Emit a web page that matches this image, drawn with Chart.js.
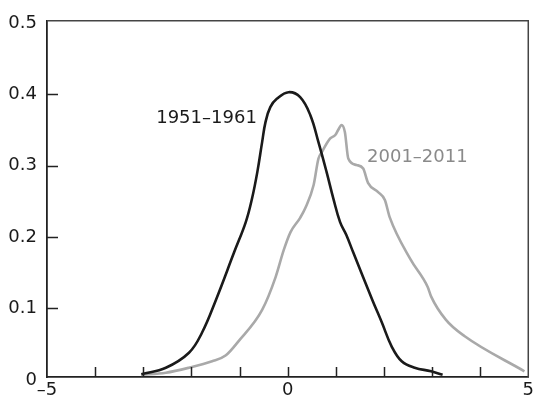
<!DOCTYPE html>
<html>
<head>
<meta charset="utf-8">
<script src="https://cdn.jsdelivr.net/npm/chart.js@4/dist/chart.umd.min.js"></script>
<style>
html, body { margin: 0; padding: 0; background: #fff; }
#wrap { width: 537px; height: 403px; }
</style>
</head>
<body>
<div id="wrap"><canvas id="myChart"></canvas></div>
<script>
// 1951-1961 (black)
const xOld = [-3.04, -2.53, -2.05, -1.78, -1.49, -1.11, -0.87, -0.74, -0.63, -0.53, -0.46, -0.36, -0.22, 0.02,
              0.26, 0.47, 0.64, 0.81, 0.95, 1.09, 1.22, 1.36, 1.76, 1.96, 2.16, 2.37, 2.64, 2.98, 3.22];
const yOld = [0.008, 0.017, 0.038, 0.066, 0.112, 0.179, 0.221, 0.254, 0.291, 0.333, 0.361, 0.382, 0.394, 0.403,
              0.396, 0.371, 0.333, 0.291, 0.254, 0.221, 0.203, 0.179, 0.112, 0.080, 0.047, 0.026, 0.017, 0.012, 0.007];

// 2001-2011 (gray)
const xNew = [-3.04, -2.53, -2.05, -1.57, -1.29, -1.01, -0.53, -0.25, -0.08, 0.06, 0.26, 0.37, 0.54, 0.64,
              0.71, 0.88, 0.99, 1.05, 1.12, 1.19, 1.26, 1.43, 1.57, 1.67, 1.88, 2.02, 2.12, 2.56, 2.91, 2.98,
              3.29, 3.68, 4.92];
const yNew = [0.007, 0.010, 0.017, 0.026, 0.034, 0.055, 0.098, 0.144, 0.182, 0.207, 0.227, 0.241, 0.273, 0.310,
              0.319, 0.338, 0.343, 0.350, 0.357, 0.347, 0.310, 0.301, 0.296, 0.276, 0.263, 0.252, 0.228, 0.168, 0.130, 0.117,
              0.084, 0.061, 0.012];

const seriesNames = ['1951–1961', '2001–2011'];
const xTicks = [-5, -4, -3, -2, -1, 0, 1, 2, 3, 4, 5];
const xTickLabels = ['–5', '', '', '', '', '0', '', '', '', '', '5'];
const yTicks = [0, 0.1, 0.2, 0.3, 0.4, 0.5];
const yTickLabels = ['0', '0.1', '0.2', '0.3', '0.4', '0.5'];

const toPoints = (xs, ys) => xs.map((v, i) => ({ x: v, y: ys[i] }));
const FONT = { family: 'DejaVu Sans', size: 18 };

// where the series names sit (data coords) and how they are aligned
const seriesLabels = [
  { text: seriesNames[0], x: -0.64, y: 0.366, align: 'right', color: '#1a1a1a' },
  { text: seriesNames[1], x: 1.65, y: 0.312, align: 'left', color: '#8a8a8a' }
];

// inward tick marks, top/right frame, series names
const framePlugin = {
  id: 'frame',
  afterDraw(chart) {
    const { ctx, chartArea: a, scales: { x, y } } = chart;
    ctx.save();
    ctx.strokeStyle = '#222';
    ctx.lineWidth = 1.5;
    ctx.beginPath();
    x.ticks.forEach(t => {
      if (t.value > -5 && t.value < 5) {
        const px = Math.round(x.getPixelForValue(t.value)) + 0.5;
        ctx.moveTo(px, a.bottom);
        ctx.lineTo(px, a.bottom - 10);
      }
    });
    y.ticks.forEach(t => {
      if (t.value > 0 && t.value < 0.5) {
        const py = Math.round(y.getPixelForValue(t.value)) + 0.5;
        ctx.moveTo(a.left, py);
        ctx.lineTo(a.left + 11, py);
      }
    });
    ctx.stroke();

    ctx.strokeStyle = '#444';
    ctx.lineWidth = 1.5;
    ctx.beginPath();
    ctx.moveTo(a.left, a.top);
    ctx.lineTo(a.right, a.top);
    ctx.lineTo(a.right, a.bottom);
    ctx.stroke();

    ctx.font = FONT.size + 'px "' + FONT.family + '"';
    ctx.textBaseline = 'middle';
    seriesLabels.forEach(l => {
      ctx.fillStyle = l.color;
      ctx.textAlign = l.align;
      ctx.fillText(l.text, x.getPixelForValue(l.x), y.getPixelForValue(l.y));
    });
    ctx.restore();
  }
};

const ctx = document.getElementById('myChart').getContext('2d');
new Chart(ctx, {
  type: 'scatter',
  data: {
    datasets: [{
      label: seriesNames[0],
      data: toPoints(xOld, yOld),
      showLine: true,
      borderColor: '#1a1a1a',
      borderWidth: 2.6,
      pointRadius: 0,
      tension: 0.4
    }, {
      label: seriesNames[1],
      data: toPoints(xNew, yNew),
      showLine: true,
      borderColor: '#a9a9a9',
      borderWidth: 2.6,
      pointRadius: 0,
      cubicInterpolationMode: 'monotone'
    }]
  },
  options: {
    responsive: true,
    maintainAspectRatio: false,
    animation: false,
    devicePixelRatio: 1,
    layout: { padding: { top: 20, right: 6, left: 0, bottom: 0 } },
    plugins: { legend: { display: false }, tooltip: { enabled: false } },
    scales: {
      x: {
        type: 'linear',
        min: -5,
        max: 5,
        afterBuildTicks: s => { s.ticks = xTicks.map(v => ({ value: v })); },
        afterFit: s => { s.height = 26; },
        grid: { display: false, drawTicks: false },
        border: { display: true, color: '#222', width: 1.8 },
        ticks: {
          font: FONT,
          color: '#1a1a1a',
          padding: 3,
          maxRotation: 0,
          autoSkip: false,
          callback: v => xTickLabels[xTicks.indexOf(v)]
        }
      },
      y: {
        min: 0.004,
        max: 0.503,
        afterBuildTicks: s => { s.ticks = yTicks.map(v => ({ value: v })); },
        afterFit: s => { s.width = 47; },
        grid: { display: false, drawTicks: false },
        border: { display: true, color: '#222', width: 1.8 },
        ticks: {
          font: FONT,
          color: '#1a1a1a',
          padding: 10,
          autoSkip: false,
          callback: v => yTickLabels[yTicks.indexOf(v)]
        }
      }
    }
  },
  plugins: [framePlugin]
});
</script>
</body>
</html>
